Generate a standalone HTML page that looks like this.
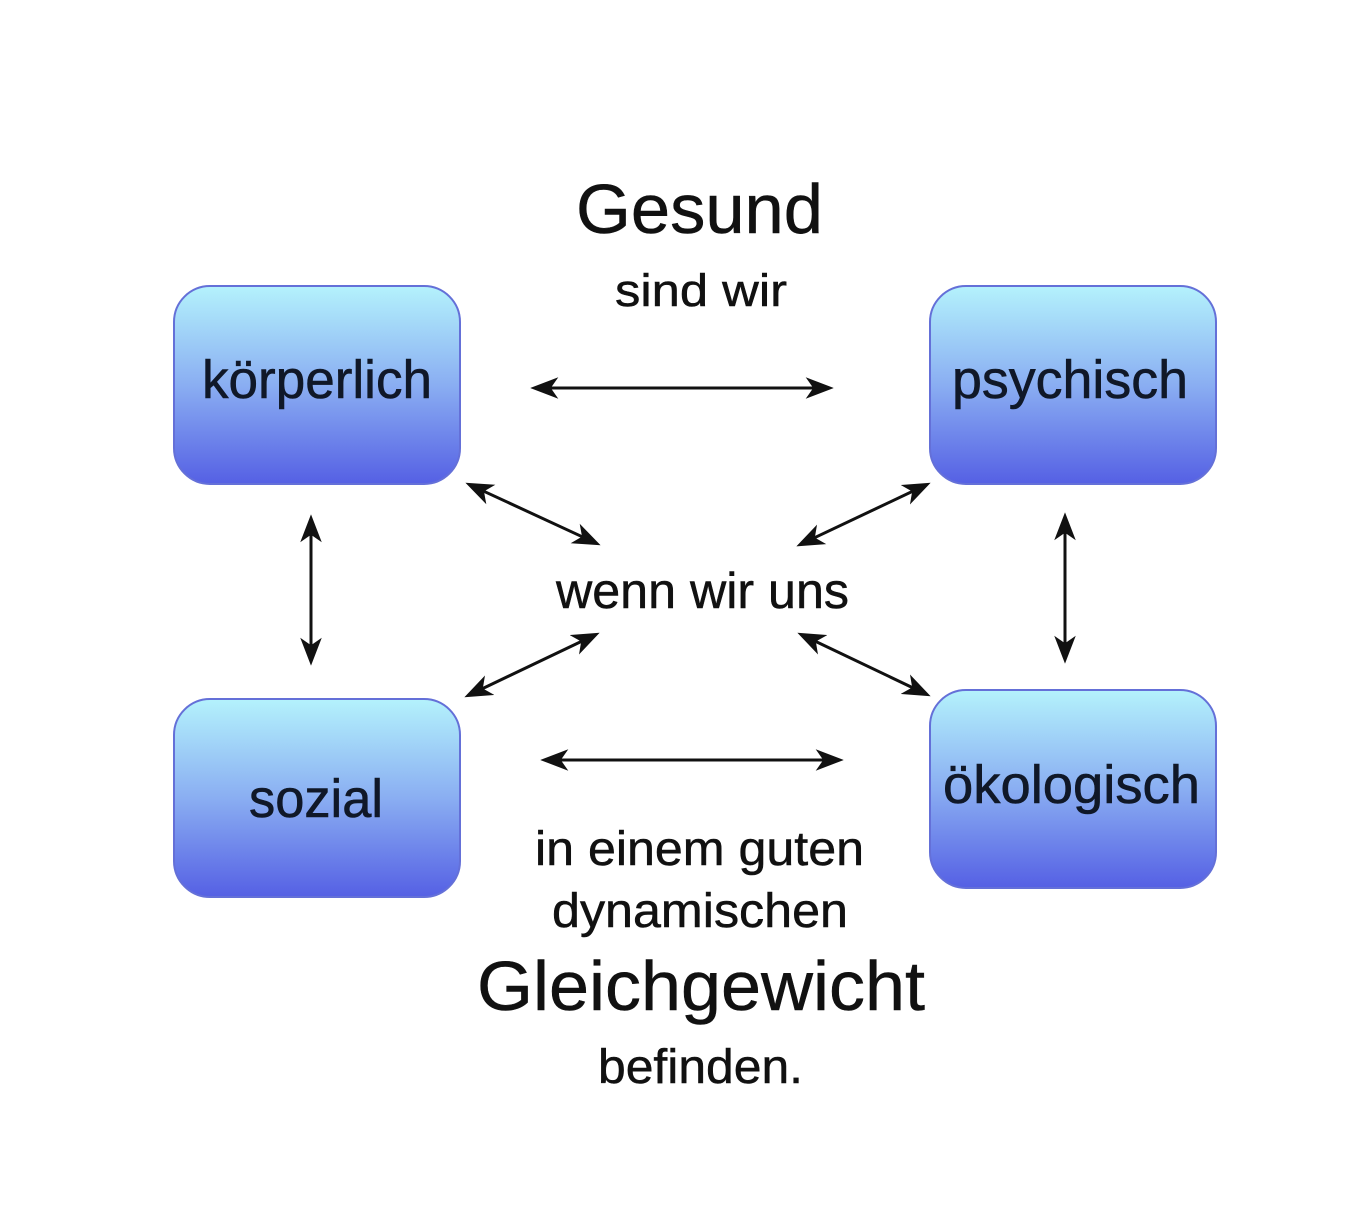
<!DOCTYPE html>
<html>
<head>
<meta charset="utf-8">
<style>
  html,body{margin:0;padding:0;background:#fff;}
  svg{display:block;}
  text{font-family:"Liberation Sans", Arial, sans-serif;}
</style>
</head>
<body>
<svg width="1366" height="1230" viewBox="0 0 1366 1230" xmlns="http://www.w3.org/2000/svg">
  <defs>
    <linearGradient id="g" x1="0" y1="0" x2="0" y2="1">
      <stop offset="0" stop-color="#b4f2fc"/>
      <stop offset="0.5" stop-color="#8aaef2"/>
      <stop offset="1" stop-color="#5560e4"/>
    </linearGradient>
    <marker id="ah" markerUnits="userSpaceOnUse" markerWidth="28" markerHeight="22" viewBox="0 0 26 20" refX="17" refY="10" orient="auto-start-reverse">
      <path d="M0,0 L26,10 L0,20 L7,10 z" fill="#111"/>
    </marker>
  </defs>
  <rect width="1366" height="1230" fill="#fff"/>

  <!-- boxes -->
  <rect x="174" y="286" width="286" height="198" rx="36" ry="36" fill="url(#g)" stroke="#6470d8" stroke-width="2"/>
  <rect x="930" y="286" width="286" height="198" rx="36" ry="36" fill="url(#g)" stroke="#6470d8" stroke-width="2"/>
  <rect x="174" y="699" width="286" height="198" rx="36" ry="36" fill="url(#g)" stroke="#6470d8" stroke-width="2"/>
  <rect x="930" y="690" width="286" height="198" rx="36" ry="36" fill="url(#g)" stroke="#6470d8" stroke-width="2"/>

  <!-- box labels -->
  <g fill="#101828" stroke="#101828" stroke-width="0.6">
  <text x="202" y="398" font-size="54" textLength="230" lengthAdjust="spacingAndGlyphs">körperlich</text>
  <text x="952" y="398" font-size="54" textLength="236" lengthAdjust="spacingAndGlyphs">psychisch</text>
  <text x="943" y="803" font-size="54" textLength="257" lengthAdjust="spacingAndGlyphs">ökologisch</text>
  <text x="249" y="817" font-size="54" textLength="134" lengthAdjust="spacingAndGlyphs">sozial</text>
  </g>

  <!-- center texts -->
  <g fill="#111" stroke="#111" stroke-width="0.5">
  <text x="576" y="233" font-size="70" textLength="247" lengthAdjust="spacingAndGlyphs">Gesund</text>
  <text x="615" y="306" font-size="45" textLength="172" lengthAdjust="spacingAndGlyphs">sind wir</text>
  <text x="556" y="608" font-size="50" textLength="293" lengthAdjust="spacingAndGlyphs">wenn wir uns</text>
  <text x="535" y="865" font-size="48" textLength="329" lengthAdjust="spacingAndGlyphs">in einem guten</text>
  <text x="552" y="927" font-size="48" textLength="296" lengthAdjust="spacingAndGlyphs">dynamischen</text>
  <text x="477" y="1010" font-size="70" textLength="448" lengthAdjust="spacingAndGlyphs">Gleichgewicht</text>
  <text x="598" y="1083" font-size="48" textLength="205" lengthAdjust="spacingAndGlyphs">befinden.</text>
  </g>

  <!-- arrows -->
  <g stroke="#111" stroke-width="3" fill="none" marker-start="url(#ah)" marker-end="url(#ah)">
    <line x1="540" y1="388" x2="824" y2="388"/>
    <line x1="550" y1="760" x2="834" y2="760"/>
    <line x1="311" y1="524" x2="311" y2="656"/>
    <line x1="1065" y1="522" x2="1065" y2="654"/>
    <line x1="474.2" y1="486.8" x2="591.8" y2="541.2"/>
    <line x1="921.9" y1="486.9" x2="805.1" y2="542.2"/>
    <line x1="473.1" y1="693.1" x2="590.9" y2="636.9"/>
    <line x1="806.1" y1="636.9" x2="921.9" y2="692.1"/>
  </g>
</svg>
</body>
</html>
